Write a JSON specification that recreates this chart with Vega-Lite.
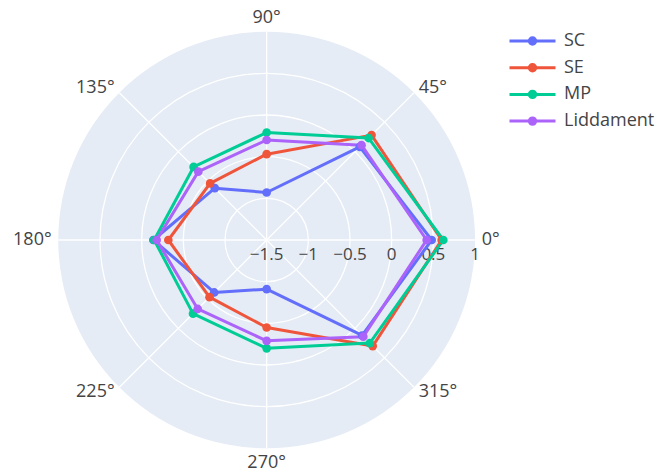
{
  "$schema": "https://vega.github.io/schema/vega-lite/v6.json",
  "width": 661,
  "height": 475,
  "autosize": "none",
  "padding": 0,
  "background": "white",
  "config": {
    "view": {"stroke": null},
    "font": "Open Sans",
    "legend": {
      "orient": "none",
      "legendX": 521,
      "legendY": 29.5,
      "padding": 0,
      "title": null,
      "labelFont": "Open Sans",
      "labelFontSize": 18,
      "labelColor": "#444444",
      "symbolSize": 400,
      "symbolStrokeWidth": 3,
      "symbolType": "M-2.3,0L2.3,0M0.32,0A0.32,0.32,0,1,1,-0.32,0A0.32,0.32,0,1,1,0.32,0Z",
      "rowPadding": 5.7,
      "labelOffset": 20
    }
  },
  "datasets": {
    "obs": [
      {"series": "SC", "angle": 0, "r": 0.48},
      {"series": "SC", "angle": 45, "r": 0.08},
      {"series": "SC", "angle": 90, "r": -0.93},
      {"series": "SC", "angle": 135, "r": -0.62},
      {"series": "SC", "angle": 180, "r": -0.14},
      {"series": "SC", "angle": 225, "r": -0.61},
      {"series": "SC", "angle": 270, "r": -0.91},
      {"series": "SC", "angle": 315, "r": 0.12},
      {"series": "SC", "angle": 360, "r": 0.48},
      {"series": "SE", "angle": 0, "r": 0.6},
      {"series": "SE", "angle": 45, "r": 0.28},
      {"series": "SE", "angle": 90, "r": -0.47},
      {"series": "SE", "angle": 135, "r": -0.54},
      {"series": "SE", "angle": 180, "r": -0.32},
      {"series": "SE", "angle": 225, "r": -0.53},
      {"series": "SE", "angle": 270, "r": -0.45},
      {"series": "SE", "angle": 315, "r": 0.3},
      {"series": "SE", "angle": 360, "r": 0.6},
      {"series": "MP", "angle": 0, "r": 0.62},
      {"series": "MP", "angle": 45, "r": 0.23},
      {"series": "MP", "angle": 90, "r": -0.21},
      {"series": "MP", "angle": 135, "r": -0.26},
      {"series": "MP", "angle": 180, "r": -0.15},
      {"series": "MP", "angle": 225, "r": -0.25},
      {"series": "MP", "angle": 270, "r": -0.2},
      {"series": "MP", "angle": 315, "r": 0.25},
      {"series": "MP", "angle": 360, "r": 0.62},
      {"series": "Liddament", "angle": 0, "r": 0.42},
      {"series": "Liddament", "angle": 45, "r": 0.11},
      {"series": "Liddament", "angle": 90, "r": -0.3},
      {"series": "Liddament", "angle": 135, "r": -0.34},
      {"series": "Liddament", "angle": 180, "r": -0.18},
      {"series": "Liddament", "angle": 225, "r": -0.33},
      {"series": "Liddament", "angle": 270, "r": -0.29},
      {"series": "Liddament", "angle": 315, "r": 0.14},
      {"series": "Liddament", "angle": 360, "r": 0.42}
    ],
    "rings": [{"r": 0.5}, {"r": 0}, {"r": -0.5}, {"r": -1}],
    "angles": [
      {"angle": 0, "label": "0°"},
      {"angle": 45, "label": "45°"},
      {"angle": 90, "label": "90°"},
      {"angle": 135, "label": "135°"},
      {"angle": 180, "label": "180°"},
      {"angle": 225, "label": "225°"},
      {"angle": 270, "label": "270°"},
      {"angle": 315, "label": "315°"}
    ],
    "rticks": [
      {"r": -1.5, "label": "−1.5"},
      {"r": -1, "label": "−1"},
      {"r": -0.5, "label": "−0.5"},
      {"r": 0, "label": "0"},
      {"r": 0.5, "label": "0.5"},
      {"r": 1, "label": "1"}
    ]
  },
  "layer": [
    {
      "data": {"values": [{"r": 1}]},
      "mark": {"type": "arc", "theta": 0, "theta2": 6.2832, "fill": "#E5ECF6", "stroke": null},
      "encoding": {
        "x": {"datum": 0, "type": "quantitative", "scale": {"domain": [-3.2, 4.732], "nice": false, "zero": false}, "axis": null},
        "y": {"datum": 0, "type": "quantitative", "scale": {"domain": [-2.82, 2.88], "nice": false, "zero": false}, "axis": null},
        "radius": {"field": "r", "type": "quantitative", "stack": null, "scale": {"type": "linear", "domain": [-1.5, 1], "range": [0, 208.33], "zero": false, "nice": false}, "legend": null},
        "radius2": {"datum": -1.5}
      }
    },
    {
      "data": {"name": "rings"},
      "mark": {"type": "arc", "theta": 0, "theta2": 6.2832, "filled": false, "stroke": "white", "strokeWidth": 1.3},
      "encoding": {
        "x": {"datum": 0, "type": "quantitative"},
        "y": {"datum": 0, "type": "quantitative"},
        "radius": {"field": "r", "type": "quantitative", "stack": null},
        "radius2": {"datum": -1.5}
      }
    },
    {
      "data": {"name": "angles"},
      "transform": [
        {"calculate": "2.5*cos(datum.angle*PI/180)", "as": "gx"},
        {"calculate": "2.5*sin(datum.angle*PI/180)", "as": "gy"}
      ],
      "mark": {"type": "rule", "color": "white", "strokeWidth": 1.3},
      "encoding": {
        "x": {"field": "gx", "type": "quantitative"},
        "y": {"field": "gy", "type": "quantitative"},
        "x2": {"datum": 0},
        "y2": {"datum": 0}
      }
    },
    {
      "data": {"name": "rticks"},
      "transform": [{"calculate": "datum.r + 1.5", "as": "tx"}],
      "mark": {"type": "text", "font": "Open Sans", "fontSize": 17, "color": "#444444", "align": "center", "baseline": "middle", "dy": 15},
      "encoding": {
        "x": {"field": "tx", "type": "quantitative"},
        "y": {"datum": 0, "type": "quantitative"},
        "text": {"field": "label"}
      }
    },
    {
      "data": {"name": "obs"},
      "transform": [
        {"calculate": "(datum.r + 1.5)*cos(datum.angle*PI/180)", "as": "px"},
        {"calculate": "(datum.r + 1.5)*sin(datum.angle*PI/180)", "as": "py"}
      ],
      "mark": {"type": "line", "strokeWidth": 3, "strokeJoin": "round"},
      "encoding": {
        "x": {"field": "px", "type": "quantitative"},
        "y": {"field": "py", "type": "quantitative"},
        "order": {"field": "angle", "type": "quantitative"},
        "color": {
          "field": "series",
          "type": "nominal",
          "scale": {"domain": ["SC", "SE", "MP", "Liddament"], "range": ["#636EFA", "#EF553B", "#00CC96", "#AB63FA"]},
          "legend": {
            "encode": {
              "symbols": {
                "update": {
                  "fill": {"scale": "color", "field": "value"},
                  "stroke": {"scale": "color", "field": "value"},
                  "strokeWidth": {"value": 3},
                  "opacity": {"value": 1}
                }
              }
            }
          }
        }
      }
    },
    {
      "data": {"name": "obs"},
      "transform": [
        {"filter": "datum.angle < 360"},
        {"calculate": "(datum.r + 1.5)*cos(datum.angle*PI/180)", "as": "px"},
        {"calculate": "(datum.r + 1.5)*sin(datum.angle*PI/180)", "as": "py"}
      ],
      "mark": {"type": "point", "filled": true, "size": 75, "opacity": 1},
      "encoding": {
        "x": {"field": "px", "type": "quantitative"},
        "y": {"field": "py", "type": "quantitative"},
        "color": {"field": "series", "type": "nominal"}
      }
    },
    {
      "data": {"name": "angles"},
      "transform": [
        {"filter": "datum.angle == 0 || datum.angle == 45 || datum.angle == 315"},
        {"calculate": "2.58*cos(datum.angle*PI/180)", "as": "lx"},
        {"calculate": "2.58*sin(datum.angle*PI/180)", "as": "ly"}
      ],
      "mark": {"type": "text", "font": "Open Sans", "fontSize": 18, "color": "#444444", "align": "left", "baseline": "middle"},
      "encoding": {
        "x": {"field": "lx", "type": "quantitative"},
        "y": {"field": "ly", "type": "quantitative"},
        "text": {"field": "label"}
      }
    },
    {
      "data": {"name": "angles"},
      "transform": [
        {"filter": "datum.angle == 135 || datum.angle == 180 || datum.angle == 225"},
        {"calculate": "2.58*cos(datum.angle*PI/180)", "as": "lx"},
        {"calculate": "2.58*sin(datum.angle*PI/180)", "as": "ly"}
      ],
      "mark": {"type": "text", "font": "Open Sans", "fontSize": 18, "color": "#444444", "align": "right", "baseline": "middle"},
      "encoding": {
        "x": {"field": "lx", "type": "quantitative"},
        "y": {"field": "ly", "type": "quantitative"},
        "text": {"field": "label"}
      }
    },
    {
      "data": {"name": "angles"},
      "transform": [
        {"filter": "datum.angle == 90 || datum.angle == 270"},
        {"calculate": "2.67*cos(datum.angle*PI/180)", "as": "lx"},
        {"calculate": "2.67*sin(datum.angle*PI/180)", "as": "ly"}
      ],
      "mark": {"type": "text", "font": "Open Sans", "fontSize": 18, "color": "#444444", "align": "center", "baseline": "middle"},
      "encoding": {
        "x": {"field": "lx", "type": "quantitative"},
        "y": {"field": "ly", "type": "quantitative"},
        "text": {"field": "label"}
      }
    }
  ]
}
